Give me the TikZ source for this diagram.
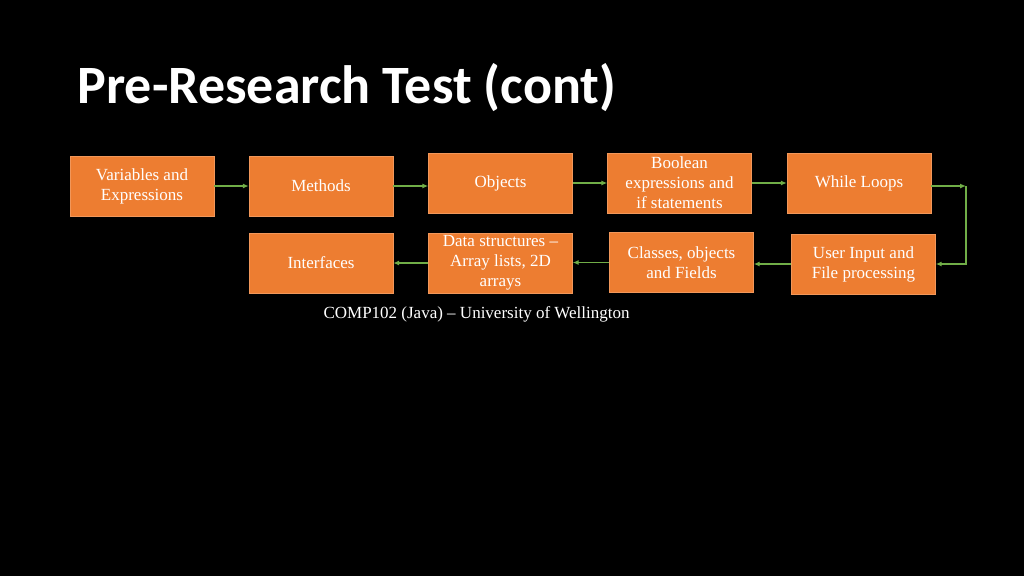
\documentclass[tikz,border=0pt]{standalone}
\usepackage{fontspec}
\usetikzlibrary{arrows.meta}
\setmainfont{Liberation Serif}
\newfontfamily\titlefont{Carlito}
\definecolor{boxor}{HTML}{ED7D31}
\definecolor{arrg}{HTML}{70AD47}
\begin{document}
\begin{tikzpicture}[x=1pt,y=-1pt,
  bx/.style={fill=boxor,draw=boxor!80!white,minimum width=144pt,minimum height=60pt,text=white,align=center,font=\fontsize{17}{20}\selectfont,inner sep=1pt},
  ar/.style={draw=arrg,line width=1.3pt,-{Latex[length=6pt,width=5pt]}}]
\fill[black] (0,0) rectangle (1024,576);
\useasboundingbox (0,0) rectangle (1024,576);
\node[anchor=west,text=white,font=\titlefont\bfseries\fontsize{54}{60}\selectfont] (title) at (74,88) {Pre-Research Test (cont)};
\node[bx] (var) at (142,186) {Variables and\\Expressions};
\node[bx] (met) at (321,186) {Methods};
\node[bx] (obj) at (500.5,183) {Objects};
\node[bx] (boo) at (679.5,183) {Boolean\\expressions and\\if statements};
\node[bx] (whi) at (859,183) {While Loops};
\node[bx] (usr) at (863.5,264) {User Input and\\File processing};
\node[bx] (cls) at (681.5,262.5) {Classes, objects\\and Fields};
\node[bx] (dat) at (500.5,263) {Data structures --\\Array lists, 2D\\arrays};
\node[bx] (int) at (321,263) {Interfaces};
\node[text=white,anchor=west,font=\fontsize{17}{20}\selectfont] (cap) at (320,314) {COMP102 (Java) -- University of Wellington};
\draw[ar] (var.east) -- (met.west);
\draw[ar] (met.east) -- (met.east -| obj.west);
\draw[ar] (obj.east) -- (boo.west);
\draw[ar] (boo.east) -- (whi.east -| whi.west);
\coordinate (c1) at (966,186);
\draw[ar] (whi.east |- c1) -- (c1);
\draw[ar] (c1) -- (966,264) -- (usr.east);
\draw[ar] (usr.west) -- (usr.west -| cls.east);
\draw[ar] (cls.west) -- (cls.west -| dat.east);
\draw[ar] (dat.west) -- (dat.west -| int.east);
\end{tikzpicture}
\end{document}
